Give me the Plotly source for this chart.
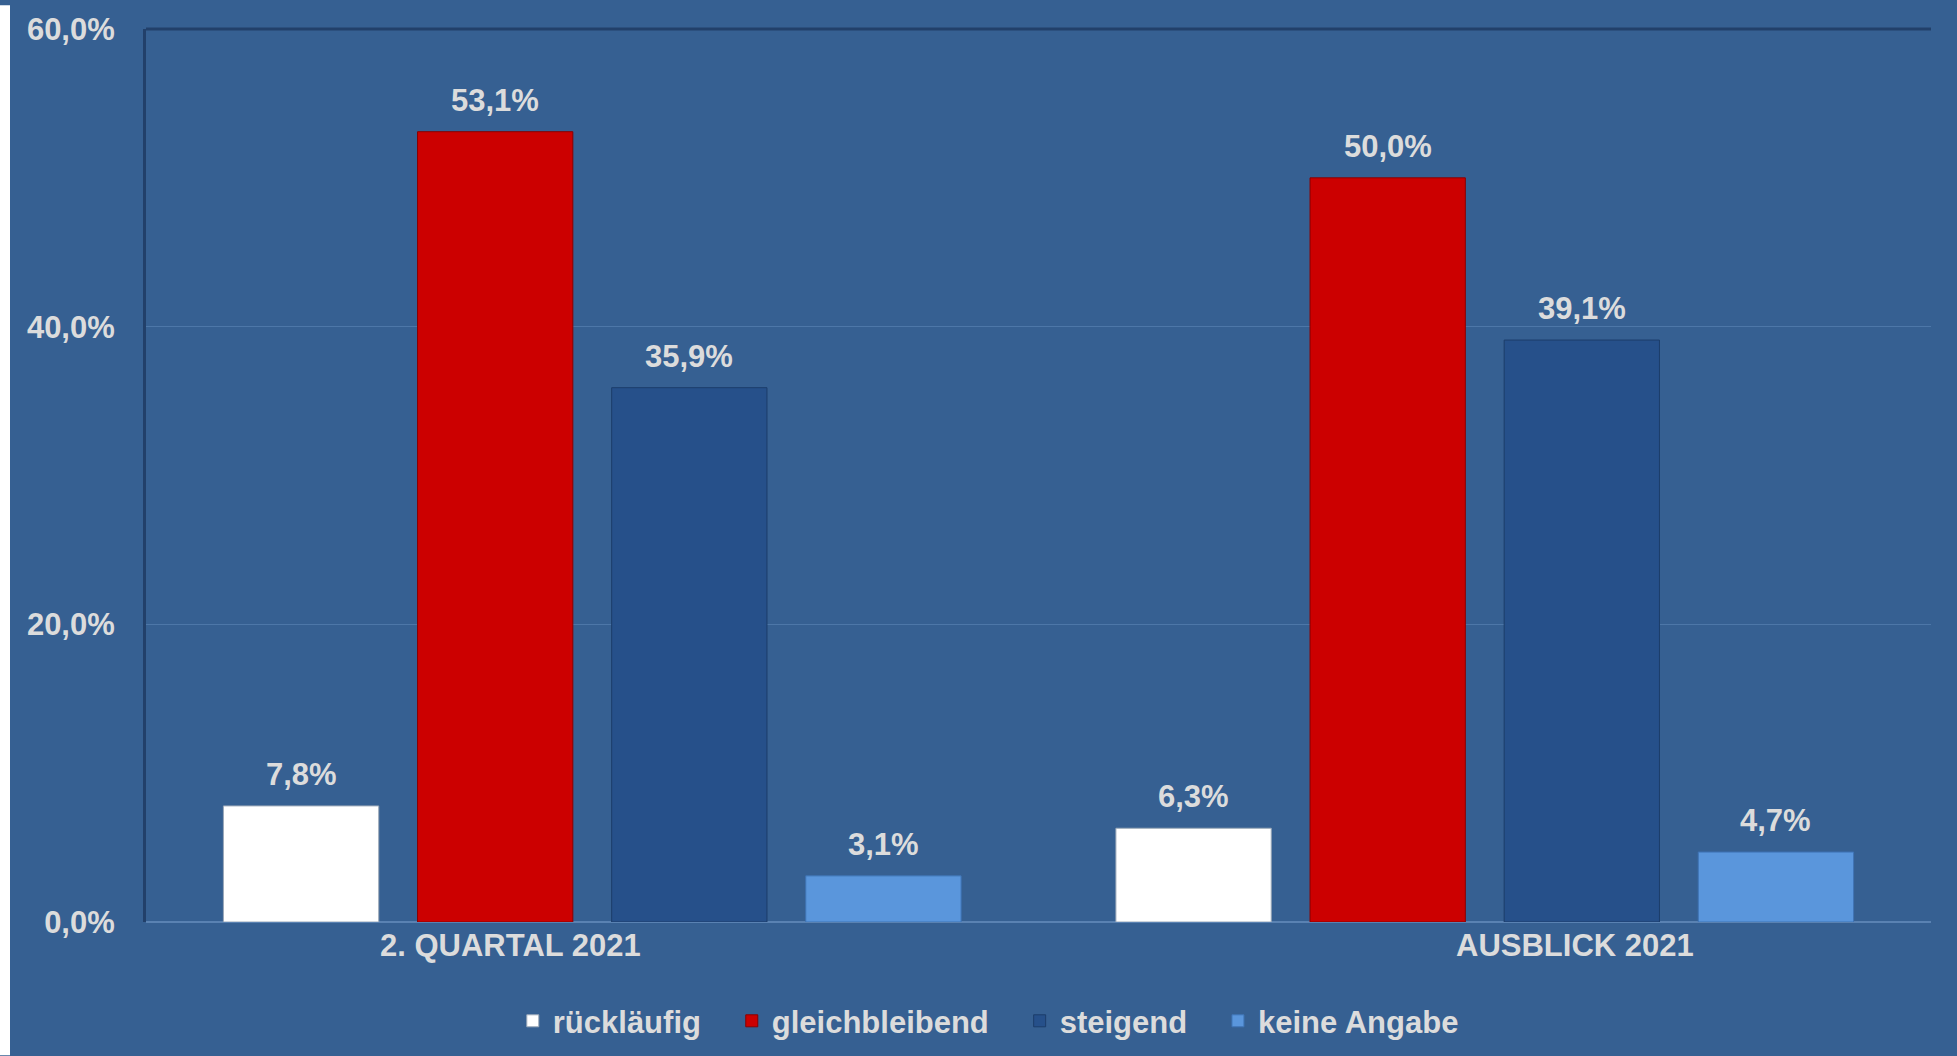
import plotly.graph_objects as go

categories = ["2. QUARTAL 2021", "AUSBLICK 2021"]
series_names = ["rückläufig", "gleichbleibend", "steigend", "keine Angabe"]
values_rueck = [7.8, 6.3]
values_gleich = [53.1, 50.0]
values_steig = [35.9, 39.1]
values_keine = [3.1, 4.7]
y_ticks = [0, 20, 40, 60]
y_tick_labels = ["0,0%", "20,0%", "40,0%", "60,0%"]

series_values = [values_rueck, values_gleich, values_steig, values_keine]
colors = ["#ffffff", "#cc0000", "#26508a", "#5a96dc"]
line_colors = ["#9aa8b8", "#8a0000", "#1c3d6a", "#3f74b5"]

BG = "#366092"
TXT = "#dcdcdc"
FONT = "Liberation Sans"
FS = 31

W, H = 1957, 1056
ML, MR, MT, MB = 146, 26, 24, 134
BARGAP, GROUPGAP = 0.13, 0.2
CAT_LABEL_XSHIFT = [-82, 90]
plot_w = W - ML - MR
plot_h = H - MT - MB
slot = plot_w / len(categories) * (1 - BARGAP) / len(series_names)

fig = go.Figure()
annotations = []
nsp = "\u00a0\u00a0\u00a0"
for i, (name, vals, c, lc) in enumerate(zip(series_names, series_values, colors, line_colors)):
    fig.add_trace(go.Bar(
        x=categories, y=vals, name=name + (nsp if i < len(series_names) - 1 else ""),
        marker=dict(color=c, line=dict(color=lc, width=1)),
    ))
    xs = (i - (len(series_names) - 1) / 2) * slot
    for cat, v in zip(categories, vals):
        annotations.append(dict(
            x=cat, y=v, xref="x", yref="y", text=f"{v:.1f}%".replace(".", ","),
            showarrow=False, xshift=xs, yshift=12, yanchor="bottom", xanchor="center",
            font=dict(family=FONT, size=FS, color=TXT, weight="bold"),
        ))

for cat, sh in zip(categories, CAT_LABEL_XSHIFT):
    annotations.append(dict(
        x=cat, y=0, xref="x", yref="y", text=cat, showarrow=False,
        xshift=sh, yshift=-23, yanchor="middle", xanchor="center",
        font=dict(family=FONT, size=FS, color=TXT, weight="bold"),
    ))

fig.update_layout(
    width=W, height=H,
    paper_bgcolor=BG, plot_bgcolor=BG,
    separators=",.",
    barmode="group", bargap=BARGAP, bargroupgap=GROUPGAP,
    margin=dict(l=ML, r=MR, t=MT, b=MB),
    font=dict(family=FONT, size=FS, color=TXT, weight="bold"),
    showlegend=True,
    legend=dict(orientation="h", xref="container", x=0.505, xanchor="center",
                yref="container", y=0.033, yanchor="middle",
                font=dict(family=FONT, size=FS, color=TXT, weight="bold"),
                itemwidth=30, bgcolor="rgba(0,0,0,0)", traceorder="normal"),
    xaxis=dict(showgrid=False, showline=False, ticks="", zeroline=False,
               showticklabels=False),
    yaxis=dict(range=[0, 60], tickvals=y_ticks, ticktext=y_tick_labels,
               showgrid=True, gridcolor="#4d77a8", gridwidth=1,
               zeroline=True, zerolinecolor="#5a82b2", zerolinewidth=2,
               showline=True, linecolor="#22406a", linewidth=3,
               ticks="", ticklabelstandoff=22,
               tickfont=dict(family=FONT, size=FS, color=TXT, weight="bold")),
    annotations=annotations,
    shapes=[
        dict(type="line", xref="paper", yref="paper", x0=0, x1=1, y0=1, y1=1,
             line=dict(color="#22406a", width=3)),
        dict(type="rect", xref="paper", yref="paper", x0=-ML / plot_w, x1=-(ML - 10) / plot_w,
             y0=-MB / plot_h, y1=(plot_h + MT) / plot_h, fillcolor="#ffffff", line=dict(width=0)),
    ],
)

fig.write_html("out.html", config={"displayModeBar": False},
               post_script="document.body.style.margin='0px';")
